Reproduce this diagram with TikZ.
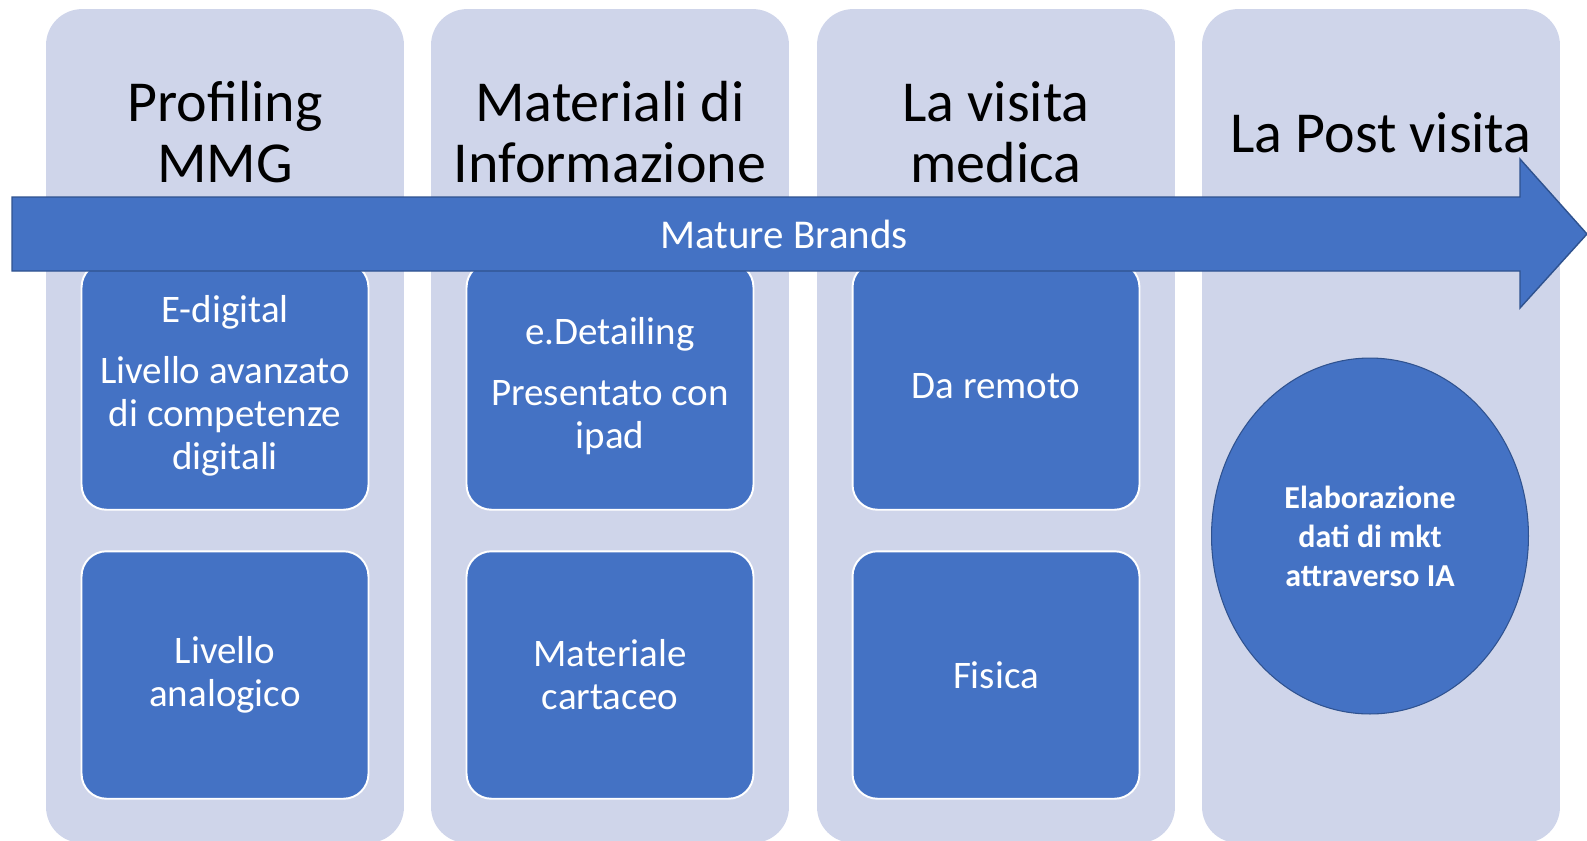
\documentclass[tikz,border=0pt]{standalone}
\usepackage{fontspec}
\setmainfont{Carlito}
\usetikzlibrary{shapes.geometric}

\definecolor{lanefill}{HTML}{CFD5EA}
\definecolor{itemblue}{HTML}{4472C4}
\definecolor{itemline}{HTML}{2F528F}

\tikzset{
    lane/.style={fill=lanefill, rounded corners=0.72cm, minimum width=7.16cm, minimum height=16.68cm, inner sep=0pt},
    lanetitle/.style={align=center, font=\fontsize{33}{34.7}\selectfont},
    item/.style={fill=itemblue, draw=white, line width=1.1pt, rounded corners=0.5cm,
        minimum width=5.74cm, minimum height=4.95cm, text=white, align=center,
        font=\fontsize{22.2}{24.5}\selectfont},
    cloud/.style={ellipse, fill=itemblue, draw=itemline, line width=0.6pt,
        minimum width=6.34cm, minimum height=7.12cm, text=white, align=center,
        font=\bfseries\fontsize{18.2}{22.2}\selectfont},
    timeline/.style={fill=itemblue, draw=itemline, line width=0.8pt}
}

\begin{document}
\begin{tikzpicture}[x=0.02cm, y=-0.02cm]
        \useasboundingbox (0,0) rectangle (1587,840);

        % lanes
        \node[lane] (L1) at (225,426) {};
        \node[lane] (L2) at (610,426) {};
        \node[lane] (L3) at (996,426) {};
        \node[lane] (L4) at (1381,426) {};

        \node[lanetitle] (T1) at (225,132) {Profiling\\MMG};
        \node[lanetitle] (T2) at (610,132) {Materiali di\\Informazione};
        \node[lanetitle] (T3) at (996,132) {La visita\\medica};
        \node[lanetitle] (T4) at (1381,133) {La Post visita};

        % items
        \node[item] (A1) at (225,386) {E-digital\\[10pt]Livello avanzato\\di competenze\\digitali};
        \node[item] (A2) at (225,675) {Livello\\analogico};
        \node[item] (B1) at (610,386) {e.Detailing\\[10pt]Presentato con\\ipad};
        \node[item] (B2) at (610,675) {Materiale\\cartaceo};
        \node[item] (C1) at (996,386) {Da remoto};
        \node[item] (C2) at (996,675) {Fisica};
        \node[cloud] (D1) at (1370,536) {Elaborazione\\dati di mkt\\attraverso IA};

        % timeline arrow
        \draw[timeline] (12,197) -- (1520,197) -- (1520,159) -- (1587,234)
            -- (1520,308) -- (1520,271) -- (12,271) -- cycle;
        \node[text=white, font=\fontsize{23.3}{26}\selectfont] (M) at (784,234) {Mature Brands};
    \end{tikzpicture}
\end{document}
